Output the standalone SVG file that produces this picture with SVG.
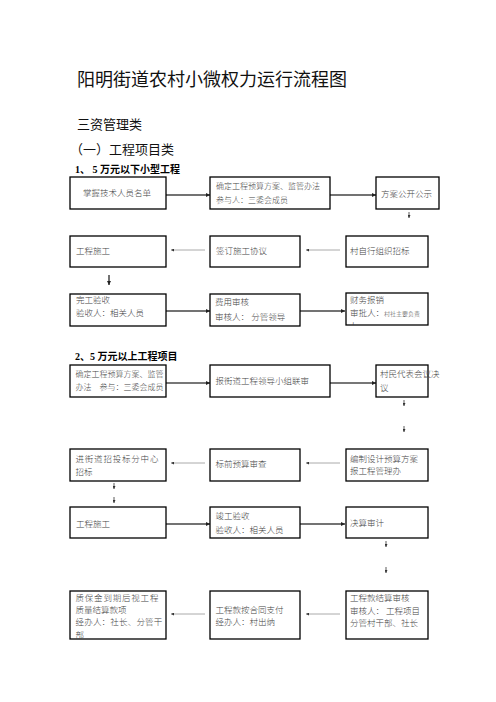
<svg xmlns="http://www.w3.org/2000/svg" width="496" height="702" viewBox="0 0 496 702">
<defs>
<style>
.h{font-family:"Noto Sans CJK SC","Liberation Sans",sans-serif;fill:#111}
.sec{font-family:"Liberation Serif","Noto Sans CJK SC",serif;font-weight:bold;font-size:10px;fill:#000}
.t{font-family:"Liberation Serif","Noto Sans CJK SC",serif;font-size:8.5px;fill:#444;font-weight:300}
.s{font-size:8px}
.box{fill:#fff;stroke:#000;stroke-width:1.3}
.ar{stroke:#444;stroke-width:1.5;fill:none}
.ak{stroke:#777;stroke-width:2.2;fill:none}
.al{stroke:#aaa;stroke-width:1;fill:none}
.ad{stroke:#333;stroke-width:0.8;fill:none}
</style>
<marker id="m" viewBox="0 0 6 6" refX="6" refY="3" markerWidth="4" markerHeight="4" markerUnits="userSpaceOnUse" orient="auto"><path d="M0,0 L6,3 L0,6 z" fill="#222"/></marker>
<marker id="ms" viewBox="0 0 6 6" refX="6" refY="3" markerWidth="3" markerHeight="3" markerUnits="userSpaceOnUse" orient="auto"><path d="M0,0 L6,3 L0,6 z" fill="#333"/></marker>
<clipPath id="cI"><rect x="346" y="293" width="82" height="32"/></clipPath>
<clipPath id="cS"><rect x="70" y="591" width="96" height="48"/></clipPath>
</defs>

<text class="h" x="77" y="86" font-size="18">阳明街道农村小微权力运行流程图</text>
<text class="h" x="77" y="129" font-size="13">三资管理类</text>
<text class="h" x="70" y="154" font-size="13">（一）工程项目类</text>
<text class="sec" x="75" y="173">1、 5 万元以下小型工程</text>
<text class="sec" x="75" y="360">2、5 万元以上工程项目</text>

<g id="connectors">
<line class="ar" x1="166" y1="195" x2="210" y2="195" marker-end="url(#m)"/>
<line class="ar" x1="330" y1="195" x2="376" y2="195" marker-end="url(#m)"/>
<line class="ad" x1="409" y1="212" x2="409" y2="218" marker-end="url(#ms)"/>
<line class="al" x1="340" y1="250" x2="306" y2="250" marker-end="url(#ms)"/>
<line class="al" x1="205" y1="250" x2="171" y2="250" marker-end="url(#ms)"/>
<line class="ar" x1="109" y1="275" x2="109" y2="285" marker-end="url(#m)"/>
<line class="ar" x1="166" y1="311" x2="210" y2="311" marker-end="url(#m)"/>
<line class="ar" x1="300" y1="311" x2="345" y2="311" marker-end="url(#m)"/>

<line class="ak" x1="166" y1="383" x2="210" y2="383" marker-end="url(#m)"/>
<line class="ak" x1="330" y1="383" x2="376" y2="383" marker-end="url(#m)"/>
<line class="ad" x1="404" y1="400" x2="404" y2="406" marker-end="url(#ms)"/>
<line class="ad" x1="404" y1="426" x2="404" y2="432" marker-end="url(#ms)"/>
<line class="al" x1="340" y1="463" x2="306" y2="463" marker-end="url(#ms)"/>
<line class="al" x1="205" y1="463" x2="171" y2="463" marker-end="url(#ms)"/>
<line class="ad" x1="114" y1="483" x2="114" y2="489" marker-end="url(#ms)"/>
<line class="ad" x1="114" y1="497" x2="114" y2="503" marker-end="url(#ms)"/>
<line class="ar" x1="166" y1="524" x2="210" y2="524" marker-end="url(#m)"/>
<line class="ar" x1="300" y1="524" x2="345" y2="524" marker-end="url(#m)"/>
<line class="ad" x1="386" y1="541" x2="386" y2="547" marker-end="url(#ms)"/>
<line class="ad" x1="386" y1="567" x2="386" y2="573" marker-end="url(#ms)"/>
<line class="al" x1="340" y1="614" x2="306" y2="614" marker-end="url(#ms)"/>
<line class="al" x1="205" y1="614" x2="171" y2="614" marker-end="url(#ms)"/>
</g>

<g id="n1a"><rect class="box" x="70" y="177" width="96" height="32"/><text class="t" x="83" y="196">掌握技术人员名单</text></g>
<g id="n1b"><rect class="box" x="210" y="177" width="120" height="32"/><text class="t s" x="216" y="189">确定工程预算方案、监管办法</text><text class="t s" x="216" y="202.5">参与人：三委会成员</text></g>
<g id="n1c"><rect class="box" x="376" y="177" width="63" height="32"/><text class="t" x="381" y="197">方案公开公示</text></g>

<g id="n1d"><rect class="box" x="70" y="236" width="96" height="31"/><text class="t" x="76" y="254">工程施工</text></g>
<g id="n1e"><rect class="box" x="210" y="236" width="90" height="31"/><text class="t" x="216" y="254">签订施工协议</text></g>
<g id="n1f"><rect class="box" x="346" y="236" width="82" height="31"/><text class="t" x="350" y="254">村自行组织招标</text></g>

<g id="n1g"><rect class="box" x="70" y="294" width="96" height="32"/><text class="t" x="76" y="303">完工验收</text><text class="t" x="76" y="315.5">验收人：相关人员</text></g>
<g id="n1h"><rect class="box" x="210" y="294" width="90" height="32"/><text class="t" x="215" y="305">费用审核</text><text class="t" x="215" y="320">审核人： 分管领导</text></g>
<g id="n1i"><rect class="box" x="346" y="293" width="82" height="32"/><text class="t" x="350" y="302.5">财务报销</text><text class="t" x="350" y="315.5">审批人：<tspan font-size="6">村社主要负责</tspan></text><text class="t" x="349" y="329" font-size="6" clip-path="url(#cI)">人</text></g>

<g id="n2a"><rect class="box" x="70" y="365" width="96" height="32"/><text class="t s" x="75.5" y="377">确定工程预算方案、监管</text><text class="t s" x="75.5" y="389.5">办法　参与：三委会成员</text></g>
<g id="n2b"><rect class="box" x="210" y="365" width="120" height="32"/><text class="t" x="215.5" y="384">报街道工程领导小组联审</text></g>
<g id="n2c"><rect class="box" x="376" y="365" width="52" height="32"/><text class="t" x="380" y="377" font-size="6.8">村民代表会议决</text><text class="t" x="380" y="391" font-size="6.8">议</text></g>

<g id="n2d"><rect class="box" x="70" y="449" width="96" height="32"/><text class="t" x="75.5" y="461.5" letter-spacing="0.8">进街道招投标分中心</text><text class="t" x="75.5" y="474.5">招标</text></g>
<g id="n2e"><rect class="box" x="210" y="449" width="90" height="32"/><text class="t" x="215.5" y="467">标前预算审查</text></g>
<g id="n2f"><rect class="box" x="346" y="449" width="82" height="32"/><text class="t" x="350" y="461.5">编制设计预算方案</text><text class="t" x="350" y="473.5">报工程管理办</text></g>

<g id="n2g"><rect class="box" x="70" y="507" width="96" height="31"/><text class="t" x="76" y="526.5">工程施工</text></g>
<g id="n2h"><rect class="box" x="210" y="507" width="90" height="31"/><text class="t" x="215.5" y="519">竣工验收</text><text class="t" x="215.5" y="532.5">验收人：相关人员</text></g>
<g id="n2i"><rect class="box" x="346" y="507" width="82" height="31"/><text class="t" x="350" y="526">决算审计</text></g>

<g id="n2j"><rect class="box" x="70" y="591" width="96" height="48"/><g clip-path="url(#cS)"><text class="t" x="75.5" y="600.5" letter-spacing="0.8">质保金到期后视工程</text><text class="t" x="75.5" y="612.5">质量结算款项</text><text class="t" x="75.5" y="625" letter-spacing="0.2">经办人：社长、分管干</text><text class="t" x="75.5" y="638">部</text></g></g>
<g id="n2k"><rect class="box" x="210" y="591" width="90" height="48"/><text class="t" x="215.5" y="612.5">工程款按合同支付</text><text class="t" x="215.5" y="624.5">经办人：村出纳</text></g>
<g id="n2l"><rect class="box" x="346" y="591" width="82" height="48"/><text class="t" x="350" y="600.5">工程款结算审核</text><text class="t" x="350" y="613.5">审核人：<tspan dx="2">工程项目</tspan></text><text class="t" x="350" y="626">分管村干部、社长</text></g>
</svg>
